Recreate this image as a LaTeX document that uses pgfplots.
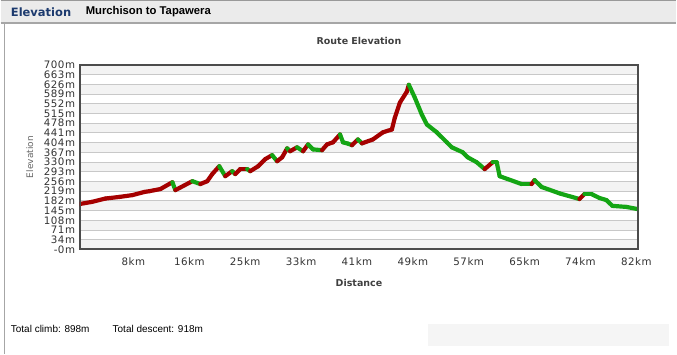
\documentclass[border=0pt]{standalone}
\usepackage{pgfplots}
\pgfplotsset{compat=1.18}
\usepackage{pgfplotstable}
\usepackage{fontspec}
\setmainfont{DejaVu Sans}
\newfontfamily\tahoma{Liberation Sans}
\newfontfamily\tickfont[LetterSpace=5]{DejaVu Sans}
\definecolor{titleblue}{RGB}{28,58,110}
\definecolor{band}{RGB}{243,243,243}
\definecolor{gridgray}{RGB}{200,200,200}

\pgfplotstableread{
x y c
0.00 170 1
1.80 178 1
3.81 191 1
5.86 197 1
7.76 204 1
9.52 216 1
10.25 219 1
11.86 227 1
13.62 253 0
14.06 223 1
16.55 257 0
17.72 246 1
18.74 257 1
19.47 284 1
20.50 314 0
21.38 276 1
22.40 295 0
22.84 284 1
23.57 303 1
24.60 303 0
25.04 295 1
26.21 314 1
27.24 341 1
28.26 356 0
28.99 333 1
29.73 348 1
30.46 382 0
30.90 371 1
31.92 386 0
32.80 371 1
33.53 397 0
34.26 378 0
35.58 375 1
36.31 397 1
37.19 405 1
38.22 435 0
38.66 405 0
39.39 400 0
39.97 394 1
40.85 416 0
41.44 401 1
43.05 416 1
44.51 443 1
45.83 454 1
46.27 499 1
47.00 556 1
48.03 598 1
48.32 624 0
49.20 575 0
50.22 511 0
50.96 473 0
52.42 443 0
53.89 405 0
54.62 386 0
56.23 367 0
56.96 348 0
58.28 329 0
59.45 303 1
60.62 329 0
61.21 329 0
61.65 276 0
64.87 246 0
66.33 246 1
66.77 261 0
67.80 235 0
70.50 210 0
73.36 189 1
74.09 208 0
75.12 208 0
76.29 193 0
77.31 185 0
78.19 163 0
80.24 159 0
81.85 151 0
82.00 150 0
}\elev

\begin{document}
\begin{tikzpicture}
\begin{scope}[x=1bp,y=1bp]
\fill[white] (0,0) rectangle (677,355);
\fill[black!8] (0,332) rectangle (677,355);
\draw[black!40, line width=1bp] (0,354.5) -- (677,354.5);
\draw[black!35, line width=1.5bp] (0,332) -- (677,332);
\draw[black!35, line width=1.5bp] (4,332) -- (4,0);
\fill[black!4] (428,8) rectangle (670,30);
\node[anchor=west, inner sep=0, text=titleblue, font=\fontsize{11.5bp}{13bp}\selectfont\bfseries] at (10,343) {Elevation};
\node[anchor=west, inner sep=0, font=\tahoma\fontsize{11.3bp}{13bp}\selectfont\bfseries] at (85,343) {Murchison to Tapawera};
\node[anchor=west, inner sep=0, font=\tahoma\fontsize{10bp}{12bp}\selectfont] at (10,25) {Total climb: 898m};
\node[anchor=west, inner sep=0, font=\tahoma\fontsize{10bp}{12bp}\selectfont] at (112,25) {Total descent: 918m};
\end{scope}

\begin{axis}[
  at={(79bp,105bp)}, anchor=south west,
  scale only axis, width=560bp, height=185bp,
  xmin=0, xmax=82, ymin=-3, ymax=700,
  xtick={8.2,16.4,24.6,32.8,41,49.2,57.4,65.6,73.8,82},
  xticklabels={8km,16km,25km,33km,41km,49km,57km,65km,74km,82km},
  ytick={-3,34,71,108,145,182,219,256,293,330,367,404,441,478,515,552,589,626,663,700},
  yticklabels={-0m,34m,71m,108m,145m,182m,219m,256m,293m,330m,367m,404m,441m,478m,515m,552m,589m,626m,663m,700m},
  major tick length=0,
  /pgf/number format/assume math mode=true,
  ticklabel style={font=\tickfont\fontsize{10.3bp}{11bp}\selectfont, text=black!80},
  xticklabel style={yshift=-5bp, xshift=-2bp},
  yticklabel style={xshift=-1bp},
  axis line style={draw=black!70, line width=2bp},
  title={Route Elevation},
  title style={at={(0.5,1)}, anchor=center, yshift=18bp, text=black!75, font=\fontsize{9.5bp}{11bp}\selectfont\bfseries},
  xlabel={Distance},
  xlabel style={at={(0.5,0)}, anchor=center, yshift=-34bp, text=black!75, font=\fontsize{9.5bp}{11bp}\selectfont\bfseries},
  ylabel={Elevation},
  ylabel style={at={(axis description cs:-0.0893,0.5)}, anchor=center, text=black!60, font=\fontsize{9bp}{11bp}\selectfont},
  colormap={rg}{rgb255=(20,165,20) rgb255=(165,0,0)},
  point meta min=0, point meta max=1,
]
\pgfplotsinvokeforeach{0,2,...,18}{
  \fill[band] (axis cs:0,{-3+37*#1}) rectangle (axis cs:82,{34+37*#1});
}
\pgfplotsinvokeforeach{1,...,18}{
  \draw[gridgray, line width=1bp] (axis cs:0,{-3+37*#1}) -- (axis cs:82,{-3+37*#1});
}
\addplot[mesh, shader=flat corner, point meta=explicit, line width=4.2bp, line cap=round, line join=round] table[x=x, y=y, meta=c] {\elev};
\draw[black!70, line width=2bp] (rel axis cs:0,0) rectangle (rel axis cs:1,1);
\end{axis}
\end{tikzpicture}
\end{document}
